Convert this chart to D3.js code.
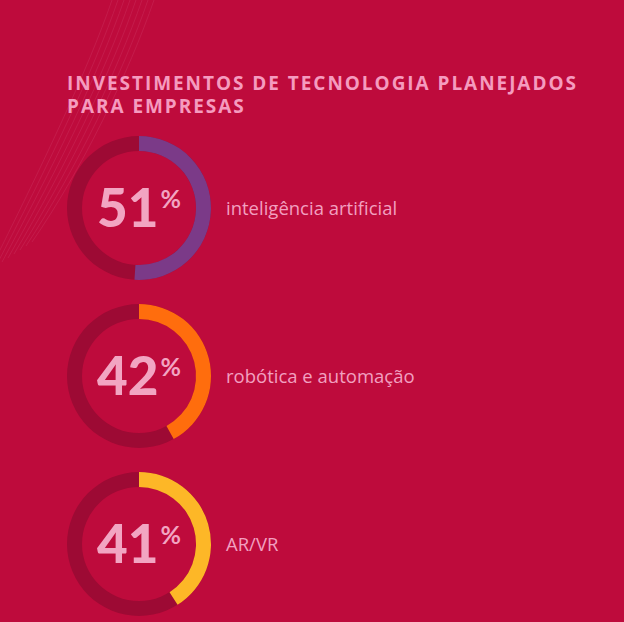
<!DOCTYPE html>
<html>
<head>
<meta charset="utf-8">
<script src="https://cdn.jsdelivr.net/npm/d3@7"></script>
<style>
  html, body { margin: 0; padding: 0; background: #be0b3c; }
  svg { display: block; }
</style>
</head>
<body>
<svg id="chart"></svg>
<script>
// data
const labels = ["inteligência artificial", "robótica e automação", "AR/VR"];
const values = [51, 42, 41];
const colors = ["#7b3a88", "#ff6d0d", "#fdb727"];
const titleLines = ["INVESTIMENTOS DE TECNOLOGIA PLANEJADOS", "PARA EMPRESAS"];

const width = 624;
const height = 622;

const svg = d3.select("#chart")
  .attr("width", width)
  .attr("height", height);

svg.append("rect")
  .attr("width", width)
  .attr("height", height)
  .attr("fill", "#be0b3c");

// faint decorative lines top-left
const deco = svg.append("g").attr("fill", "none").attr("stroke", "#d4507a").attr("stroke-opacity", 0.3).attr("stroke-width", 0.8);
for (let i = 0; i < 8; i++) {
  const off = i * 6;
  deco.append("path")
    .attr("d", `M${112 + off},0 C${88 + off},70 ${40 + off},170 ${-10 + off},${270 - i * 4}`);
}

// title, one text block with a tspan per line
svg.append("text")
  .attr("fill", "#f59bbf")
  .attr("font-family", "'Open Sans', sans-serif")
  .attr("font-weight", 700)
  .attr("font-size", 19)
  .attr("letter-spacing", 1.95)
  .selectAll("tspan")
  .data(titleLines)
  .join("tspan")
  .attr("x", 67)
  .attr("y", (d, i) => 90 + i * 23)
  .text(d => d);

// ring layout
const y = d3.scalePoint()
  .domain(labels)
  .range([208, 544]);

const cx = 139;
const outerR = 72;
const innerR = 57;

const pct = d3.scaleLinear().domain([0, 100]).range([0, 2 * Math.PI]);
const arc = d3.arc().innerRadius(innerR).outerRadius(outerR);

const rows = svg.selectAll("g.ring")
  .data(labels)
  .join("g")
  .attr("class", "ring")
  .attr("transform", d => `translate(${cx},${y(d)})`);

// track
rows.append("path")
  .attr("d", arc({ startAngle: 0, endAngle: 2 * Math.PI }))
  .attr("fill", "#9d0a34");

// value arc
rows.append("path")
  .attr("d", (d, i) => arc({ startAngle: 0, endAngle: pct(values[i]) }))
  .attr("fill", (d, i) => colors[i]);

// big number
const num = rows.append("text")
  .attr("x", 0)
  .attr("y", 19)
  .attr("text-anchor", "middle")
  .attr("fill", "#f2a5c2")
  .attr("font-family", "Lato, sans-serif")
  .attr("font-weight", 900);

num.append("tspan")
  .attr("font-size", 53)
  .text((d, i) => values[i]);

num.append("tspan")
  .attr("font-size", 25)
  .attr("font-weight", 700)
  .attr("dy", -19)
  .attr("dx", 2)
  .text("%");

// label
rows.append("text")
  .attr("x", 87)
  .attr("y", 7)
  .attr("fill", "#f2a0c0")
  .attr("font-family", "'Open Sans', sans-serif")
  .attr("font-size", 18.5)
  .text(d => d);
</script>
</body>
</html>
